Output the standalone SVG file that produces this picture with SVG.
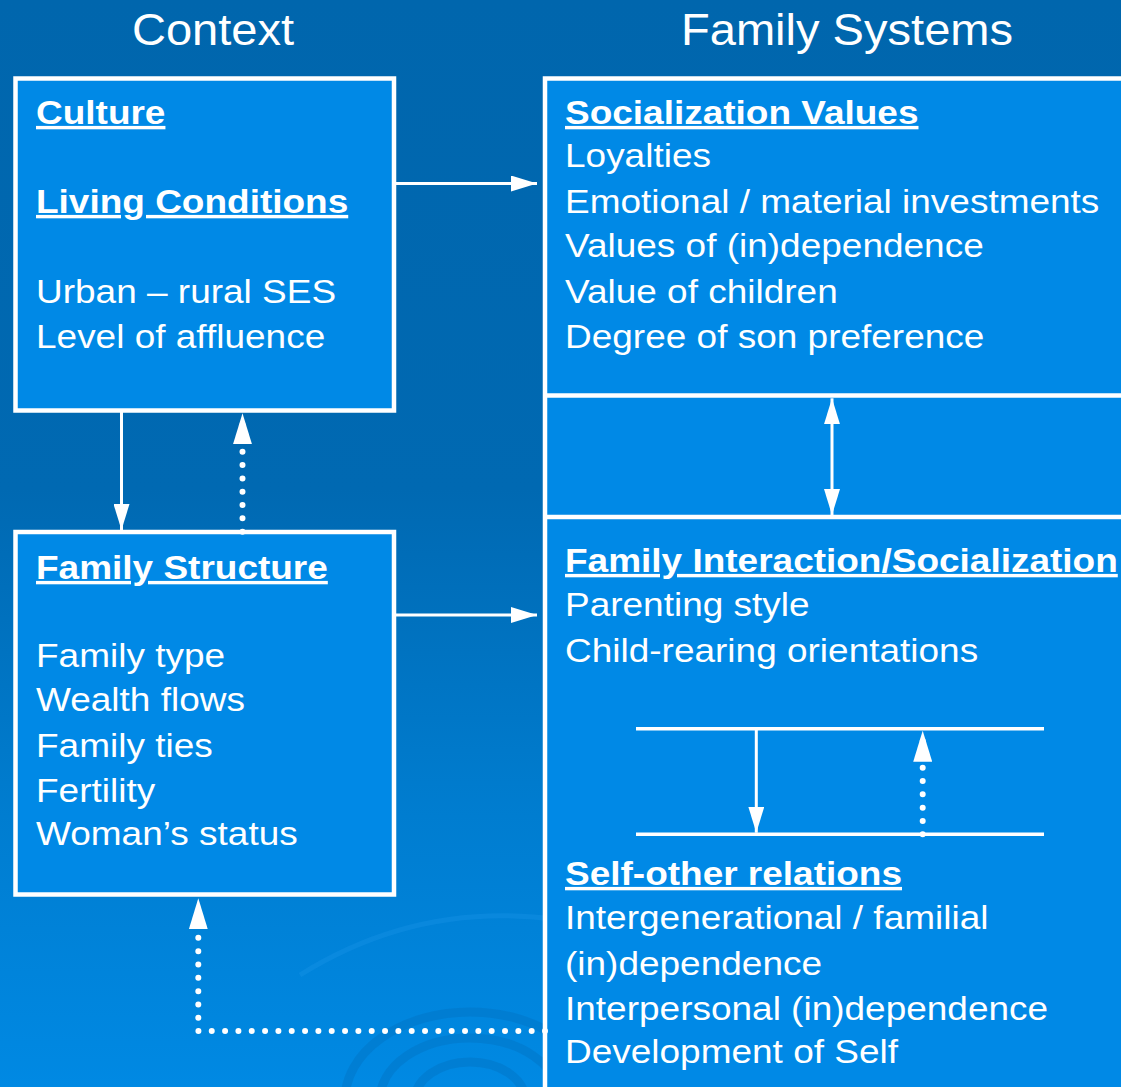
<svg xmlns="http://www.w3.org/2000/svg" width="1121" height="1087" viewBox="0 0 1121 1087">
  <defs>
    <linearGradient id="bg" x1="0" y1="0" x2="0" y2="1">
      <stop offset="0" stop-color="#0066ad"/>
      <stop offset="0.45" stop-color="#0069b2"/>
      <stop offset="0.75" stop-color="#007dd0"/>
      <stop offset="1" stop-color="#0089e3"/>
    </linearGradient>
    <marker id="head" markerUnits="userSpaceOnUse" markerWidth="26" markerHeight="16" refX="26" refY="8" orient="auto-start-reverse" viewBox="0 0 26 16">
      <path d="M0,0 L26,8 L0,16 z" fill="#ffffff"/>
    </marker>
    <marker id="headDot" markerUnits="userSpaceOnUse" markerWidth="31" markerHeight="19" refX="31" refY="9.5" orient="auto" viewBox="0 0 31 19">
      <path d="M0,0 L31,9.5 L0,19 z" fill="#ffffff"/>
    </marker>
  </defs>
  <style>
    .box { fill: #0089e6; stroke: #ffffff; stroke-width: 4.5; }
    .sep { stroke: #ffffff; stroke-width: 4.5; fill: none; }
    .t { font-family: "Liberation Sans", Arial, sans-serif; font-size: 34px; fill: #ffffff; }
    .h { font-weight: bold; text-decoration: underline; }
    .title { font-family: "Liberation Sans", Arial, sans-serif; font-size: 44px; fill: #ffffff; text-anchor: middle; }
    .solid { stroke: #ffffff; stroke-width: 3; fill: none; }
    .dots { stroke: #ffffff; stroke-width: 6; stroke-linecap: round; stroke-dasharray: 0 13.33; fill: none; }
    .inner { stroke: #ffffff; stroke-width: 3.5; fill: none; }
    .swirl { fill: none; stroke: #0074c4; stroke-width: 9; opacity: 0.45; }
  </style>

  <rect x="0" y="0" width="1121" height="1087" fill="url(#bg)"/>
  <g id="decoration">
    <ellipse class="swirl" cx="470" cy="1100" rx="55" ry="38"/>
    <ellipse class="swirl" cx="470" cy="1100" rx="90" ry="62"/>
    <ellipse class="swirl" cx="470" cy="1100" rx="125" ry="88"/>
    <path d="M300,975 Q420,900 560,920" fill="none" stroke="#1b95e8" stroke-width="5" opacity="0.35"/>
  </g>

  <g id="headers">
    <g transform="translate(213,0) scale(1.07,1)"><text class="title" x="0" y="45">Context</text></g>
    <g transform="translate(847,0) scale(1.07,1)"><text class="title" x="0" y="45">Family Systems</text></g>
  </g>

  <g id="culture">
    <rect class="box" x="15.5" y="78.5" width="378.5" height="332"/>
    <g transform="translate(36,0) scale(1.088,1)">
      <text class="t h" x="0" y="124">Culture</text>
      <text class="t h" x="0" y="213">Living Conditions</text>
      <text class="t" x="0" y="303">Urban – rural SES</text>
      <text class="t" x="0" y="348">Level of affluence</text>
    </g>
  </g>

  <g id="family-structure">
    <rect class="box" x="15.5" y="532" width="378.5" height="362.5"/>
    <g transform="translate(36,0) scale(1.088,1)">
      <text class="t h" x="0" y="579">Family Structure</text>
      <text class="t" x="0" y="667">Family type</text>
      <text class="t" x="0" y="711">Wealth flows</text>
      <text class="t" x="0" y="757">Family ties</text>
      <text class="t" x="0" y="802">Fertility</text>
      <text class="t" x="0" y="845">Woman’s status</text>
    </g>
  </g>

  <g id="family-systems">
    <rect class="box" x="545" y="78.5" width="600" height="1040"/>
    <line class="sep" x1="547" y1="395.5" x2="1121" y2="395.5"/>
    <line class="sep" x1="547" y1="517" x2="1121" y2="517"/>
  </g>

  <g id="socialization-values">
    <g transform="translate(565,0) scale(1.088,1)">
      <text class="t h" x="0" y="124">Socialization Values</text>
      <text class="t" x="0" y="167">Loyalties</text>
      <text class="t" x="0" y="213">Emotional / material investments</text>
      <text class="t" x="0" y="257">Values of (in)dependence</text>
      <text class="t" x="0" y="303">Value of children</text>
      <text class="t" x="0" y="348">Degree of son preference</text>
    </g>
  </g>

  <g id="family-interaction">
    <g transform="translate(565,0) scale(1.088,1)">
      <text class="t h" x="0" y="572">Family Interaction/Socialization</text>
      <text class="t" x="0" y="616">Parenting style</text>
      <text class="t" x="0" y="662">Child-rearing orientations</text>
    </g>
  </g>

  <g id="self-other">
    <g transform="translate(565,0) scale(1.088,1)">
      <text class="t h" x="0" y="885">Self-other relations</text>
      <text class="t" x="0" y="929">Intergenerational / familial</text>
      <text class="t" x="0" y="975">(in)dependence</text>
      <text class="t" x="0" y="1020">Interpersonal (in)dependence</text>
      <text class="t" x="0" y="1063">Development of Self</text>
    </g>
  </g>

  <g id="connectors">
    <line class="solid" x1="396" y1="183.5" x2="537" y2="183.5" marker-end="url(#head)"/>
    <line class="solid" x1="396" y1="615" x2="537" y2="615" marker-end="url(#head)"/>
    <line class="solid" x1="121.5" y1="412" x2="121.5" y2="530" marker-end="url(#head)"/>
    <path class="dots" d="M242.5,531.7 L242.5,413.3" marker-end="url(#headDot)"/>
    <line class="solid" x1="832" y1="398.3" x2="832" y2="515" marker-start="url(#head)" marker-end="url(#head)"/>
    <line class="inner" x1="636" y1="728.7" x2="1044" y2="728.7"/>
    <line class="inner" x1="636" y1="834.3" x2="1044" y2="834.3"/>
    <line class="solid" x1="756.3" y1="730" x2="756.3" y2="832.7" marker-end="url(#head)"/>
    <path class="dots" d="M922.7,834.3 L922.7,730.7" marker-end="url(#headDot)"/>
    <path class="dots" d="M545,1031 L198.3,1031 L198.3,898.3" marker-end="url(#headDot)"/>
  </g>
</svg>
